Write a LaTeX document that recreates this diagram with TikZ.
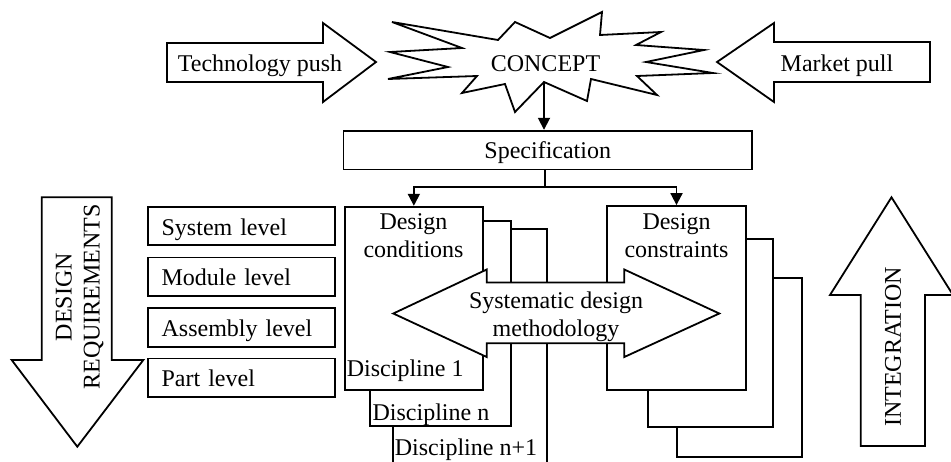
\documentclass[tikz,border=0pt]{standalone}
\usepackage{fontspec}
\setmainfont{Liberation Serif}
\usetikzlibrary{arrows.meta}
\begin{document}
\begin{tikzpicture}[x=1pt,y=-1pt,
  line width=1.8pt, line join=miter,
  every node/.style={font=\fontsize{24}{28}\selectfont, inner sep=0pt},
  shapeline/.style={draw=black, fill=white, line width=1.8pt},
  box/.style={draw=black, fill=white, line width=1.8pt, rectangle, inner sep=0pt},
  levelbox/.style={box, minimum width=186.7pt, minimum height=38.5pt,
    text width=160pt, align=left, inner xsep=13.35pt,
    text height=19.9pt, text depth=1.7pt},
  link/.style={draw, line width=1.8pt, -{Triangle[length=12pt,width=12pt]}},
]
\useasboundingbox (0,0) rectangle (951,461);
\clip (0,0) rectangle (951,461);

% --- top row: push / concept / pull ---
\draw[shapeline] (167,43) -- (323,43) -- (323,23) -- (376,62) -- (323,102)
  -- (323,82) -- (167,82) -- cycle;
\node[anchor=base] (push) at (260,71.7) {Technology push};

\draw[shapeline] (930,42) -- (774,42) -- (774,23) -- (717,62) -- (774,102)
  -- (774,82) -- (930,82) -- cycle;
\node[anchor=base] (pull) at (837,71.7) {Market pull};

\draw[shapeline] (392,22) -- (498,40) -- (515,22) -- (550,38) -- (602,12)
  -- (600,35) -- (661,32) -- (636,45) -- (704,50) -- (646,62) -- (713,73)
  -- (637,76) -- (657,95) -- (591,79) -- (587,101) -- (544,82) -- (515,112)
  -- (505,84) -- (462,93) -- (477,76) -- (388,79) -- (448,67) -- (390,52)
  -- (462,48) -- cycle;
\node[anchor=base] (concept) at (545.5,71.7) {CONCEPT};
\coordinate (cbot) at (544,82);

% --- specification ---
\node[box, minimum width=408.5pt, minimum height=38.8pt,
  text height=19pt, text depth=2.6pt] (spec) at (547.75,150.1) {Specification};
\draw[link] (cbot) -- (cbot |- spec.north);

% --- levels and design requirements arrow ---
\node[levelbox] (sys) at (241.65,225.9) {System level};
\node[levelbox] (mod) at (241.65,276.7) {Module level};
\node[levelbox] (asm) at (241.65,327.5) {Assembly level};
\node[levelbox] (part) at (241.65,377.8) {Part level};

\draw[shapeline] (41.7,197.3) -- (111.7,197.3) -- (111.7,360) -- (143.3,360)
  -- (77.3,446.7) -- (11.7,360) -- (41.7,360) -- cycle;
\node[rotate=90, align=center] (req) at (79.5,297) {DESIGN\\REQUIREMENTS};

% --- design condition stack ---
\node[box, minimum width=154pt, minimum height=250.7pt] (cond3) at (469.7,354.65) {};
\node[box, minimum width=141pt, minimum height=205.3pt] (cond2) at (440.5,323.35) {};
\node[box, minimum width=137.7pt, minimum height=183.3pt] (cond) at (413.85,298.35) {};
\node[align=center] (condtxt) at (413.5,236) {Design\\conditions};

% --- design constraint stack ---
\node[box, minimum width=124.4pt, minimum height=178.4pt] (cons3) at (739.5,367.5) {};
\node[box, minimum width=124.4pt, minimum height=188pt] (cons2) at (710.5,333.3) {};
\node[box, minimum width=138.4pt, minimum height=184pt] (cons) at (676.5,298) {};
\node[align=center] (constxt) at (676.5,236) {Design\\constraints};

% --- specification feeds both stacks ---
\coordinate (split) at (545,187.3);
\draw (split |- spec.south) -- (split);
\draw[link] (split) -| (cond.north);
\draw[link] (split) -| (cons.north);

% --- systematic design methodology (double arrow) ---
\draw[shapeline] (393.3,313.5) -- (486.7,269.5) -- (486.7,282.5) -- (624.3,282.5)
  -- (624.3,269.5) -- (719.3,313.5) -- (624.3,357) -- (624.3,343.3)
  -- (486.7,343.3) -- (486.7,357) -- cycle;
\node[align=center] (method) at (556,316.5) {Systematic design\\methodology};

% --- discipline labels ---
\node[anchor=base west] (d1) at (346,376.7) {Discipline 1};
\node[anchor=base west] (dn) at (371.7,420) {Discipline n};
\node[anchor=base west] (dn1) at (394,455) {Discipline n+1};

% --- integration arrow ---
\draw[shapeline] (891.5,197.3) -- (953,295) -- (925,295) -- (925,446)
  -- (860.7,446) -- (860.7,295) -- (830,295) -- cycle;
\node[rotate=90] (integ) at (893,346.7) {INTEGRATION};
\end{tikzpicture}
\end{document}
